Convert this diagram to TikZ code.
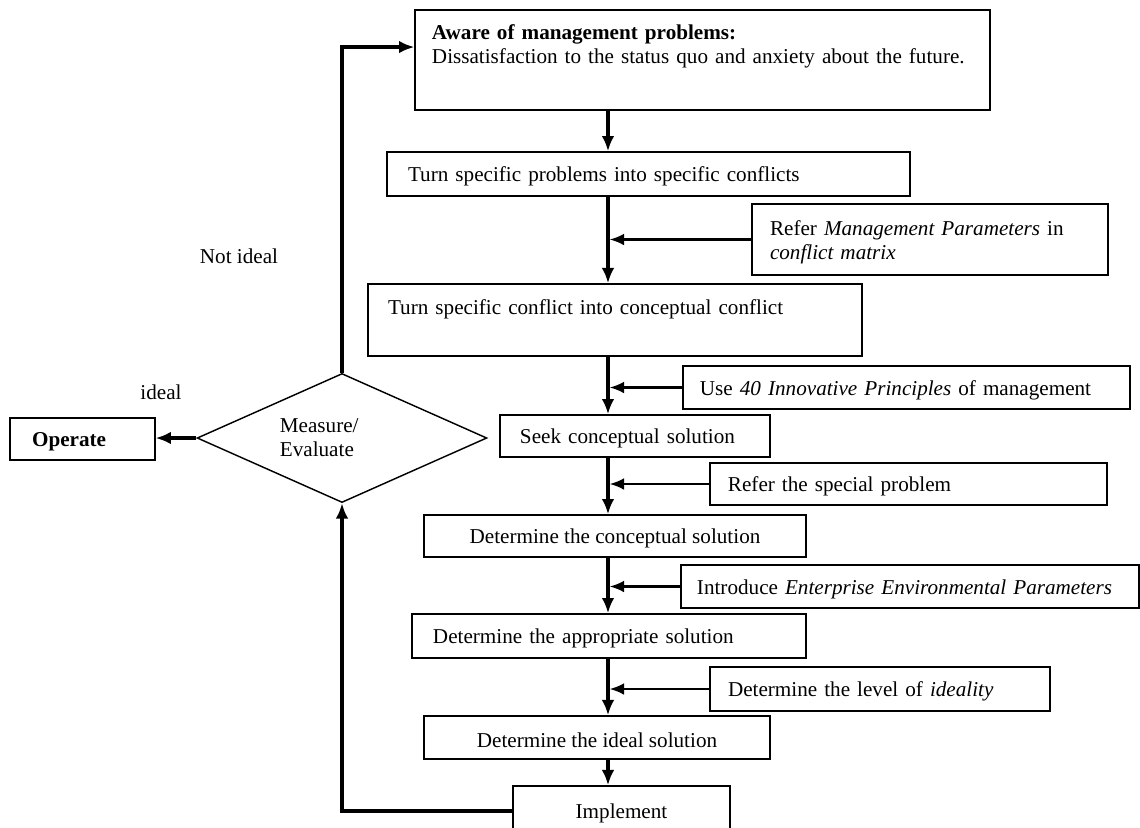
\documentclass[tikz,border=0pt]{standalone}
\usepackage{fontspec}
\setmainfont{Liberation Serif}
\usetikzlibrary{arrows.meta,shapes.geometric}
\begin{document}
\begin{tikzpicture}[x=0.5556pt, y=-0.5556pt,
    font=\fontsize{11.75}{13.3}\selectfont,
    box/.style={draw, rectangle, line width=0.8pt, inner ysep=0pt,
      text height=11pt, minimum height=#1},
    lbox/.style n args={3}{box=#1, align=left, inner xsep=#2, text width=#3},
    cbox/.style 2 args={box=#1, align=center, minimum width=#2},
    flow/.style={line width=1.8pt, -{Latex[length=8.5pt,width=7pt]}},
    feed/.style={line width=1.2pt, -{Latex[length=8pt,width=6.5pt]}, shorten >=0.9pt}]
  \useasboundingbox (0,0) rectangle (1140,827);
  \coordinate (spine) at (608,0);
  \node[lbox={55.6pt}{9.4pt}{300.6pt}, text depth=34pt] (aware) at (702.5,60)
    {\textbf{Aware of management problems:}\\
     Dissatisfaction to the status quo and anxiety about the future.};
  \node[lbox={24.4pt}{11.7pt}{267.2pt}] (probs) at (648.5,174)
    {Turn specific problems into specific conflicts};
  \node[lbox={39.4pt}{10pt}{177.8pt}] (refmp) at (930,239.5)
    {Refer \textit{Management Parameters} in\\ \textit{conflict matrix}};
  \node[lbox={40pt}{11.1pt}{252.2pt}, text depth=17.6pt] (concept) at (615,320)
    {Turn specific conflict into conceptual conflict};
  \node[lbox={23.9pt}{9.4pt}{229.5pt}] (princ) at (906.5,387.5)
    {Use \textit{40 Innovative Principles} of management};
  \node[lbox={23.3pt}{11.1pt}{127.8pt}] (seek) at (635,436)
    {Seek conceptual solution};
  \node[lbox={23.3pt}{10pt}{200.6pt}] (special) at (908.5,484)
    {Refer the special problem};
  \node[cbox={23.3pt}{212.2pt}] (detconc) at (615,536)
    {Determine the conceptual solution};
  \node[lbox={23.9pt}{8.9pt}{236.7pt}] (envir) at (910,586.5)
    {Introduce \textit{Enterprise Environmental Parameters}};
  \node[lbox={24.4pt}{11.7pt}{195.6pt}] (detappr) at (609,636)
    {Determine the appropriate solution};
  \node[lbox={24.4pt}{10pt}{168.9pt}] (ideality) at (880,689)
    {Determine the level of \textit{ideality}};
  \node[cbox={23.9pt}{192.2pt}] (detideal) at (597,737.5)
    {Determine the ideal solution};
  \node[cbox={27.8pt}{120.6pt}] (implement) at (621.5,811) {Implement};
  \node[draw, diamond, line width=0.8pt, inner sep=0pt, aspect=2.25,
    minimum width=161pt, minimum height=71.7pt, text width=69pt, align=left] (measure) at (342,438)
    {Measure/\\ Evaluate};
  \node[lbox={23.3pt}{12.2pt}{56pt}, font=\fontsize{11.75}{13.3}\selectfont\bfseries] (operate) at (82.5,439) {Operate};
  \node (notideal) at (239,256) {Not ideal};
  \node (ideal) at (161,392) {ideal};
  \foreach \a/\b in {aware/probs, probs/concept, concept/seek, seek/detconc,
      detconc/detappr, detappr/detideal, detideal/implement}
    \draw[flow] (\a.south -| spine) -- (\b.north -| spine);
  \foreach \s in {refmp, princ, special, envir, ideality}
    \draw[feed] (\s.west) -- (\s.west -| spine);
  \draw[flow] (measure.north) |- ([yshift=7.2pt]aware.west);
  \draw[flow] (implement.west) -| (measure.south);
  \draw[flow] (measure.west) -- (measure.west -| operate.east);
\end{tikzpicture}
\end{document}
